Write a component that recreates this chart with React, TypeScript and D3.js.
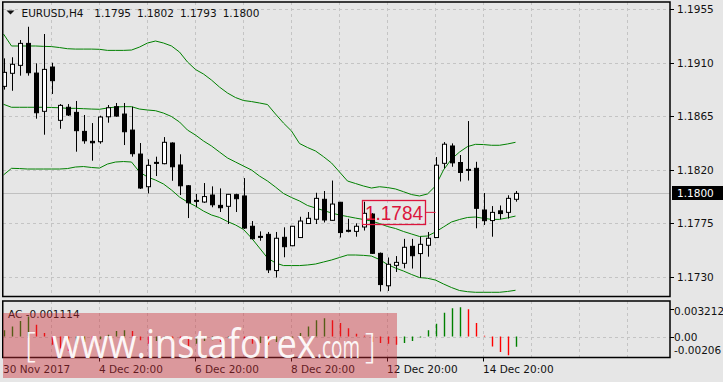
import React from 'react';
import * as d3 from 'd3';

// ---- EURUSD H4 candles (bar 0 = 30 Nov 2017 20:00) ----
const opens = [1.18901,1.19011,1.19078,1.19263,1.19013,1.18691,1.19064,1.18615,1.18725,1.18682,1.18522,1.18438,1.18435,1.18645,1.18730,1.18668,1.18533,1.18331,1.18056,1.18261,1.18250,1.18424,1.18239,1.18064,1.17941,1.17927,1.17986,1.17899,1.17891,1.17989,1.17978,1.17723,1.17638,1.17655,1.17350,1.17630,1.17559,1.17628,1.17746,1.17782,1.17950,1.17773,1.17925,1.17689,1.17680,1.17717,1.17826,1.17495,1.17222,1.17394,1.17411,1.17554,1.17493,1.17563,1.17628,1.18253,1.18399,1.18260,1.18202,1.18211,1.17860,1.17771,1.17853,1.17840,1.17950];
const highs = [1.19137,1.19146,1.19291,1.19403,1.19095,1.19342,1.19100,1.18752,1.18752,1.18778,1.18660,1.18592,1.18654,1.18744,1.18761,1.18761,1.18730,1.18424,1.18287,1.18309,1.18474,1.18430,1.18329,1.18070,1.17995,1.18087,1.18059,1.18042,1.17995,1.17997,1.18129,1.17767,1.17680,1.17675,1.17675,1.17714,1.17726,1.17803,1.17843,1.18005,1.18020,1.18108,1.17928,1.17786,1.17748,1.17930,1.17834,1.17502,1.17460,1.17472,1.17617,1.17617,1.17635,1.17675,1.18306,1.18432,1.18421,1.18323,1.18609,1.18266,1.18003,1.17893,1.17898,1.17984,1.18020];
const lows = [1.18874,1.18864,1.18991,1.18991,1.18629,1.18494,1.18837,1.18544,1.18651,1.18351,1.18418,1.18275,1.18418,1.18595,1.18645,1.18407,1.18309,1.18037,1.18000,1.18146,1.18245,1.18106,1.17986,1.17792,1.17883,1.17920,1.17883,1.17843,1.17742,1.17843,1.17700,1.17613,1.17601,1.17329,1.17291,1.17462,1.17555,1.17624,1.17745,1.17742,1.17755,1.17770,1.17628,1.17672,1.17635,1.17687,1.17490,1.17174,1.17178,1.17338,1.17369,1.17367,1.17290,1.17467,1.17625,1.18211,1.18224,1.18100,1.18108,1.17706,1.17734,1.17635,1.17782,1.17788,1.17930];
const closes = [1.19019,1.19087,1.19263,1.19016,1.18679,1.19044,1.18949,1.18741,1.18660,1.18528,1.18443,1.18426,1.18643,1.18721,1.18651,1.18519,1.18334,1.18045,1.18236,1.18253,1.18430,1.18224,1.18064,1.17921,1.17934,1.17973,1.17904,1.17879,1.17992,1.17955,1.17708,1.17618,1.17632,1.17356,1.17622,1.17551,1.17723,1.17767,1.17790,1.17958,1.17776,1.17910,1.17670,1.17683,1.17723,1.17832,1.17495,1.17232,1.17403,1.17419,1.17546,1.17475,1.17571,1.17622,1.18237,1.18414,1.18257,1.18176,1.18197,1.17874,1.17770,1.17840,1.17830,1.17958,1.18000];

// ---- Bollinger bands ----
const bbUpper = [1.19342,1.19241,1.19241,1.19241,1.19241,1.19238,1.19236,1.19228,1.19218,1.19215,1.19215,1.19215,1.19213,1.19204,1.19204,1.19204,1.19207,1.19232,1.19266,1.19283,1.19266,1.19241,1.19190,1.19106,1.19043,1.19005,1.18954,1.18895,1.18845,1.18807,1.18782,1.18773,1.18761,1.18748,1.18668,1.18592,1.18525,1.18420,1.18386,1.18357,1.18309,1.18256,1.18180,1.18104,1.18083,1.18062,1.18045,1.18056,1.18049,1.18037,1.18014,1.17990,1.17978,1.17995,1.18062,1.18197,1.18289,1.18348,1.18394,1.18413,1.18411,1.18405,1.18405,1.18416,1.18430];
const bbMiddle = [1.18750,1.18725,1.18725,1.18725,1.18725,1.18725,1.18723,1.18721,1.18716,1.18716,1.18713,1.18710,1.18708,1.18719,1.18727,1.18730,1.18730,1.18710,1.18702,1.18696,1.18676,1.18647,1.18601,1.18533,1.18491,1.18441,1.18399,1.18348,1.18298,1.18264,1.18230,1.18197,1.18146,1.18104,1.18053,1.17999,1.17965,1.17936,1.17898,1.17877,1.17856,1.17835,1.17818,1.17805,1.17792,1.17780,1.17767,1.17746,1.17721,1.17704,1.17679,1.17658,1.17637,1.17641,1.17675,1.17717,1.17759,1.17780,1.17797,1.17801,1.17790,1.17781,1.17781,1.17794,1.17809];
const bbLower = [1.18155,1.18211,1.18209,1.18205,1.18205,1.18205,1.18205,1.18205,1.18209,1.18222,1.18226,1.18218,1.18213,1.18247,1.18264,1.18268,1.18264,1.18180,1.18138,1.18112,1.18079,1.18028,1.17969,1.17927,1.17893,1.17851,1.17818,1.17797,1.17763,1.17734,1.17696,1.17624,1.17540,1.17456,1.17414,1.17392,1.17392,1.17392,1.17397,1.17405,1.17422,1.17439,1.17460,1.17481,1.17481,1.17478,1.17472,1.17443,1.17401,1.17371,1.17346,1.17317,1.17291,1.17285,1.17270,1.17237,1.17207,1.17182,1.17172,1.17167,1.17167,1.17167,1.17167,1.17174,1.17184];

// ---- Accelerator Oscillator ----
const acValues = [0.0007,0.0011,0.0017,0.0022,0.0013,0.0004,-0.0009,-0.0013,-0.0016,-0.0010,-0.0006,-0.0009,-0.0003,0.0002,0.0006,0.0007,0.0006,-0.0004,-0.0008,-0.0005,-0.0003,-0.0006,-0.0009,-0.0012,-0.0008,-0.0005,-0.0004,-0.0006,-0.0002,-0.0001,-0.0006,-0.0008,-0.0007,-0.0009,-0.0006,-0.0004,-0.0001,0.0004,0.0011,0.0018,0.0020,0.0018,0.0015,0.0009,0.0003,0.0001,-0.0006,-0.0007,-0.0008,-0.0009,-0.0007,-0.0005,-0.0001,0.0007,0.0014,0.0026,0.0031,0.003212,0.0030,0.0015,0.0001,-0.0011,-0.0017,-0.00206,-0.001114];

// ---- axis labels ----
const priceTicks = [1.1955, 1.1910, 1.1865, 1.1820, 1.1775, 1.1730];
const xLabelIdx = [0, 12, 24, 36, 48, 60];
const xLabelText = ['30 Nov 2017', '4 Dec 20:00', '6 Dec 20:00', '8 Dec 20:00', '12 Dec 20:00', '14 Dec 20:00'];
const headerSymbol = 'EURUSD,H4';
const headerValues = ['1.1795', '1.1802', '1.1793', '1.1800'];
const currentPrice = 1.18;
const markedPrice = 1.1784;
const markedBar = 54;
const acMax = 0.003212;
const acMin = -0.00206;
const acCurrent = '-0.001114';

const FONT = '"DejaVu Sans", sans-serif';

export default function App() {
  const W = 723, H = 382;
  const plotL = 3, plotR = 670, mainT = 2, mainB = 296.5, indT = 301, indB = 357.5;
  const x = d3.scaleLinear().domain([0, 1]).range([3.5, 11.5]);
  const y = d3.scaleLinear().domain([1.1730, 1.1955]).range([276.5, 9.3]);
  const ya = d3.scaleLinear().domain([acMin, acMax]).range([355.3, 307.3]);
  const fmt = d3.format('.4f');
  const gridIdx = d3.range(6, 79, 6);
  const band = d3.line<number>().x((_, i) => x(i)).y(d => y(d));
  const green = '#008000';
  const grid = '#c4c4c4';
  const bg = '#e6e6e6';

  return (
    <svg width={W} height={H} style={{ position: 'absolute', left: 0, top: 0 }} fontFamily={FONT}>
      <defs>
        <clipPath id="mainClip"><rect x={plotL} y={mainT} width={plotR - plotL} height={mainB - mainT} /></clipPath>
        <clipPath id="indClip"><rect x={plotL} y={indT} width={plotR - plotL} height={indB - indT} /></clipPath>
      </defs>
      <rect x={0} y={0} width={W} height={H} fill={bg} />

      {/* main panel grid */}
      <g clipPath="url(#mainClip)">
        {gridIdx.map(i => (
          <line key={'vg' + i} x1={x(i)} x2={x(i)} y1={mainT} y2={mainB} stroke={grid} strokeDasharray="3,3" />
        ))}
        {priceTicks.map(p => (
          <line key={'hg' + p} x1={plotL} x2={plotR} y1={Math.round(y(p)) + 0.5} y2={Math.round(y(p)) + 0.5} stroke={grid} strokeDasharray="3,3" />
        ))}
        <line x1={plotL} x2={plotR} y1={Math.round(y(currentPrice)) + 0.5} y2={Math.round(y(currentPrice)) + 0.5} stroke="#c0c0c0" />

        {/* bands */}
        {[bbUpper, bbMiddle, bbLower].map((b, j) => (
          <path key={'bb' + j} d={band(b) || ''} fill="none" stroke={green} strokeWidth={1} />
        ))}

        {/* candles */}
        {opens.map((o, i) => {
          const c = closes[i];
          const cx = Math.round(x(i)) + 0.5;
          const top = y(Math.max(o, c));
          const bot = y(Math.min(o, c));
          const up = c >= o;
          return (
            <g key={'c' + i}>
              <line x1={cx} x2={cx} y1={y(highs[i])} y2={y(lows[i])} stroke="#000" strokeWidth={1} />
              <rect x={cx - 2} y={top} width={4} height={Math.max(1, bot - top)} fill={up ? '#fff' : '#000'} stroke="#000" strokeWidth={1} />
            </g>
          );
        })}

        {/* marked price label */}
        <line x1={425.5} x2={x(markedBar)} y1={y(markedPrice)} y2={y(markedPrice)} stroke="#dc143c" strokeWidth={1} />
        <rect x={362.5} y={200.5} width={63} height={24} fill="none" stroke="#dc143c" strokeWidth={1.3} />
        <text x={394} y={220} textAnchor="middle" fontFamily='"Liberation Sans", Arial, sans-serif' fontSize={20.5} fill="#dc143c" textLength={58} lengthAdjust="spacingAndGlyphs">{fmt(markedPrice)}</text>
      </g>

      {/* indicator panel */}
      <g clipPath="url(#indClip)">
        {gridIdx.map(i => (
          <line key={'ivg' + i} x1={x(i)} x2={x(i)} y1={indT} y2={indB} stroke={grid} strokeDasharray="3,3" />
        ))}
        <line x1={plotL} x2={plotR} y1={Math.round(ya(0)) + 0.5} y2={Math.round(ya(0)) + 0.5} stroke={grid} strokeDasharray="3,3" />
        {acValues.map((v, i) => {
          const col = i === 0 || v >= acValues[i - 1] ? green : '#ff0000';
          const cx = Math.round(x(i)) + 0.5;
          return <line key={'ac' + i} x1={cx} x2={cx} y1={ya(0)} y2={ya(v)} stroke={col} strokeWidth={1.4} />;
        })}
      </g>
      <text x={8} y={318} fontSize={10.5} fill="#111">AC {acCurrent}</text>

      {/* frames */}
      <rect x={2.75} y={mainT} width={plotR - 2.75} height={mainB - mainT} fill="none" stroke="#000" strokeWidth={1.5} />
      <rect x={2.75} y={indT} width={plotR - 2.75} height={indB - indT} fill="none" stroke="#000" strokeWidth={1.5} />

      {/* price axis */}
      {priceTicks.map(p => (
        <g key={'pt' + p}>
          <line x1={plotR} x2={plotR + 4} y1={Math.round(y(p)) + 0.5} y2={Math.round(y(p)) + 0.5} stroke="#000" />
          <text x={677} y={y(p) + 4} fontSize={10.5} fill="#111">{fmt(p)}</text>
        </g>
      ))}
      <rect x={672} y={186} width={51} height={14} fill="#000" />
      <text x={677} y={y(currentPrice) + 4} fontSize={10.5} fill="#fff">{fmt(currentPrice)}</text>

      {/* indicator axis */}
      <line x1={plotR} x2={plotR + 4} y1={309.5} y2={309.5} stroke="#000" />
      <line x1={plotR} x2={plotR + 4} y1={Math.round(ya(0)) + 0.5} y2={Math.round(ya(0)) + 0.5} stroke="#000" />
      <text x={674} y={ya(acMax) + 7.5} fontSize={10.5} fill="#111">{d3.format('.6f')(acMax)}</text>
      <text x={674} y={ya(0) + 4} fontSize={10.5} fill="#111">0.00</text>
      <text x={674} y={ya(acMin) - 1} fontSize={10.5} fill="#111">{d3.format('.5f')(acMin).replace('−', '-')}</text>

      {/* time axis */}
      {xLabelIdx.map((i, j) => (
        <g key={'xl' + i}>
          {i > 0 && <line x1={x(i)} x2={x(i)} y1={indB} y2={indB + 4} stroke="#000" />}
          <text x={x(i) - 0.5} y={373} fontSize={10.5} fill="#111">{xLabelText[j]}</text>
        </g>
      ))}

      {/* header */}
      <path d="M6.5,10.5 L14.5,10.5 L10.5,14.5 Z" fill="#111" />
      <text x={21.5} y={16.5} fontSize={10.5} fill="#111">{headerSymbol}</text>
      {headerValues.map((v, j) => (
        <text key={'hv' + j} x={94.3 + j * 42.8} y={16.5} fontSize={10.5} fill="#111">{v}</text>
      ))}

      {/* watermark */}
      <rect x={3} y={313} width={394} height={65} fill="rgb(205,45,55)" opacity={0.42} />
      <g fill="#fff" opacity={0.92} fontFamily='"Open Sans", sans-serif'>
        <text x={25} y={357} fontSize={34} fontWeight={300}>[</text>
        <text x={52} y={358} fontSize={41} textLength={264} lengthAdjust="spacingAndGlyphs">www.instaforex</text>
        <text x={317} y={358} fontSize={31} textLength={43} lengthAdjust="spacingAndGlyphs">.com</text>
        <text x={365} y={358} fontSize={34} fontWeight={300}>]</text>
      </g>
    </svg>
  );
}
